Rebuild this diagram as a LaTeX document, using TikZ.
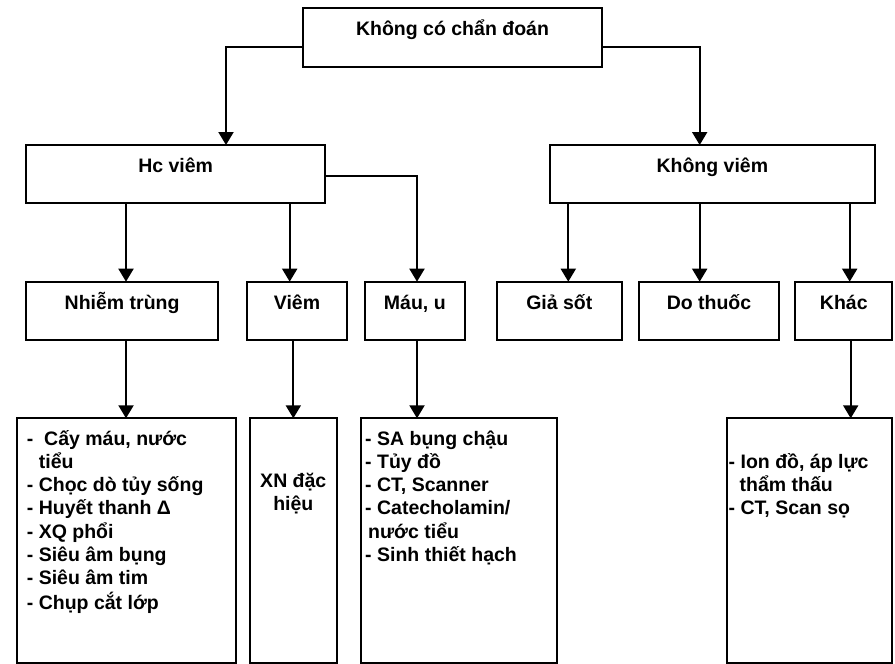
\documentclass[tikz,border=0pt]{standalone}
\usepackage{fontspec}
\setmainfont{Liberation Sans}
\usetikzlibrary{arrows.meta}
\begin{document}
\begin{tikzpicture}[x=1pt,y=-1pt,
  box/.style={draw, line width=2pt, rectangle, inner sep=0pt, outer sep=0pt, anchor=north west},
  txt/.style={inner sep=0pt, font=\bfseries\fontsize{19.5}{23.3}\selectfont},
  lbl/.style={txt, anchor=base},
  arr/.style={line width=2pt, -{Triangle[width=15pt,length=13pt]}}]
\useasboundingbox (0,0) rectangle (895,664);
% boxes
\node[box, minimum width=299.6pt, minimum height=58.4pt] (top) at (302.7,8.3) {};
\node[box, minimum width=299.3pt, minimum height=58.3pt] (hc) at (26,145) {};
\node[box, minimum width=324.7pt, minimum height=58.3pt] (kv) at (550,145) {};
\node[box, minimum width=192.3pt, minimum height=58.3pt] (n3a) at (26,281.7) {};
\node[box, minimum width=100.6pt, minimum height=58.3pt] (n3b) at (246.7,281.7) {};
\node[box, minimum width=100.3pt, minimum height=58.3pt] (n3c) at (364.7,281.7) {};
\node[box, minimum width=125.3pt, minimum height=58.3pt] (n3d) at (496.7,281.7) {};
\node[box, minimum width=139.4pt, minimum height=58.3pt] (n3e) at (639.3,281.7) {};
\node[box, minimum width=97pt, minimum height=58.3pt] (n3f) at (795.3,281.7) {};
\node[box, minimum width=218.4pt, minimum height=244.4pt] (n4a) at (17.3,418.3) {};
\node[box, minimum width=87.3pt, minimum height=244.4pt] (n4b) at (249.7,418.3) {};
\node[box, minimum width=196.3pt, minimum height=244.4pt] (n4c) at (361,418.3) {};
\node[box, minimum width=165pt, minimum height=244.4pt] (n4d) at (726.7,418.3) {};
% labels
\node[lbl] (ltop) at ([yshift=-26.7pt]top.north) {Không có chẩn đoán};
\node[lbl] (lhc) at ([yshift=-27.3pt]hc.north) {Hc viêm};
\node[lbl] (lkv) at ([yshift=-27.3pt]kv.north) {Không viêm};
\node[lbl] (l3a) at ([yshift=-27.6pt]n3a.north) {Nhiễm trùng};
\node[lbl] (l3b) at ([yshift=-27.6pt]n3b.north) {Viêm};
\node[lbl] (l3c) at ([yshift=-27.6pt]n3c.north) {Máu, u};
\node[lbl] (l3d) at ([yshift=-27.6pt]n3d.north) {Giả sốt};
\node[lbl] (l3e) at ([yshift=-27.6pt]n3e.north) {Do thuốc};
\node[lbl] (l3f) at ([yshift=-27.6pt]n3f.north) {Khác};
\node[txt, anchor=base west] (l4a) at (26.7,445) {\begin{tabular}[t]{@{}l@{}}-\ \ Cấy máu, nước\\\hspace{12pt}tiểu\\- Chọc dò tủy sống\\- Huyết thanh Δ\\- XQ phổi\\- Siêu âm bụng\\- Siêu âm tim\\- Chụp cắt lớp\end{tabular}};
\node[txt, anchor=base] (l4b) at (293.3,487) {\begin{tabular}[t]{@{}c@{}}XN đặc\\hiệu\end{tabular}};
\node[txt, anchor=base west] (l4c) at (365,445) {\begin{tabular}[t]{@{}l@{}}- SA bụng chậu\\- Tủy đồ\\- CT, Scanner\\- Catecholamin/\\\hspace{3pt}nước tiểu\\- Sinh thiết hạch\end{tabular}};
\node[txt, anchor=base west] (l4d) at (728.5,468.3) {\begin{tabular}[t]{@{}l@{}}- Ion đồ, áp lực\\\hspace{11pt}thẩm thấu\\- CT, Scan sọ\end{tabular}};
% column coordinates
\coordinate (cL) at (226,0);
\coordinate (cR) at (699.7,0);
\coordinate (cA) at (126,0);
\coordinate (cB) at (289.7,0);
\coordinate (cB2) at (293.3,0);
\coordinate (cC) at (417,0);
\coordinate (cD) at (568.3,0);
\coordinate (cE) at (699.7,0);
\coordinate (cF) at (849.7,0);
\coordinate (cF2) at (850.7,0);
% connectors
\draw[arr] ([yshift=-9.8pt]top.west) -| (cL |- hc.north);
\draw[arr] ([yshift=-9.8pt]top.east) -| (cR |- kv.north);
\draw[arr] (cA |- hc.south) -- (cA |- n3a.north);
\draw[arr] (cB |- hc.south) -- (cB |- n3b.north);
\draw[arr] ([yshift=-1.8pt]hc.east) -| (cC |- n3c.north);
\draw[arr] (cD |- kv.south) -- (cD |- n3d.north);
\draw[arr] (cE |- kv.south) -- (cE |- n3e.north);
\draw[arr] (cF |- kv.south) -- (cF |- n3f.north);
\draw[arr] (cA |- n3a.south) -- (cA |- n4a.north);
\draw[arr] (cB2 |- n3b.south) -- (cB2 |- n4b.north);
\draw[arr] (cC |- n3c.south) -- (cC |- n4c.north);
\draw[arr] (cF2 |- n3f.south) -- (cF2 |- n4d.north);
\end{tikzpicture}
\end{document}
